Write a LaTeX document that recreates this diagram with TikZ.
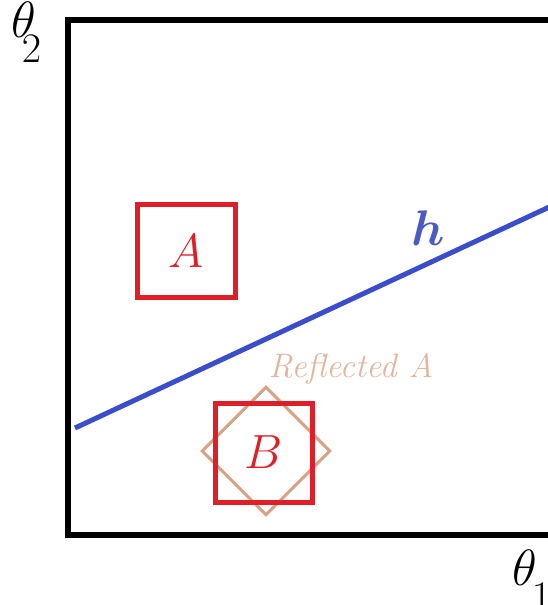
\documentclass[tikz,border=0pt]{standalone}
\usepackage{fix-cm}
\usepackage{amsmath,amssymb}
\usepackage{xcolor}
\usetikzlibrary{positioning}
\definecolor{cR}{HTML}{E01E28}
\definecolor{cT}{HTML}{D6A283}
\definecolor{cL}{HTML}{E2B59C}
\definecolor{cB}{HTML}{3A4DCB}
\definecolor{cH}{HTML}{4A5BC4}
% theta with a large, dropped index
\newcommand{\thidx}[2]{$\theta$\kern#2\raisebox{-25pt}{\fontsize{42}{44}\selectfont$#1$}}
\tikzset{
  axis/.style={line width=6pt,line cap=rect},
  region/.style={draw=cR,line width=5pt,inner sep=0pt,
                 font=\fontsize{48}{50}\selectfont,text=cR},
  reflbox/.style={draw=cT,line width=3pt,inner sep=0pt,
                  minimum size=90pt,rotate=45},
  hyper/.style={cB,line width=5pt},
  axlabel/.style={inner sep=0pt,anchor=north west,font=\fontsize{51}{53}\selectfont},
}
\begin{document}
\begin{tikzpicture}[x=1pt,y=-1pt]
  \useasboundingbox (0,0) rectangle (548,605);
  % frame of the parameter space
  \coordinate (tl) at (68,20);
  \coordinate (bl) at (68,535);
  \coordinate (tr) at (560,20);
  \coordinate (br) at (560,535);
  \draw[axis] (tr)--(tl)--(bl)--(br);
  \node[axlabel](t2) at (11,2){\thidx{2}{-14pt}};
  \node[axlabel](t1) at (512,550){\thidx{1}{-5pt}};
  % hyperplane h
  \coordinate (h0) at (75,428);
  \coordinate (h1) at (560,202);
  \draw[hyper] (h0)--(h1);
  \node[text=cH,font=\fontsize{50}{52}\selectfont\boldmath](h) at (428,228){$h$};
  % reflected copy of A, then B on top
  \node[reflbox](ra) at (266,451){};
  \node[text=cL,font=\fontsize{34}{36}\selectfont\itshape](ral) at (351,369){Reflected A};
  \node[region,minimum width=98pt,minimum height=93pt](A) at (186.5,251){$A$};
  \node[region,minimum width=97pt,minimum height=99pt](B) at (263.5,452.5){$B$};
\end{tikzpicture}
\end{document}
